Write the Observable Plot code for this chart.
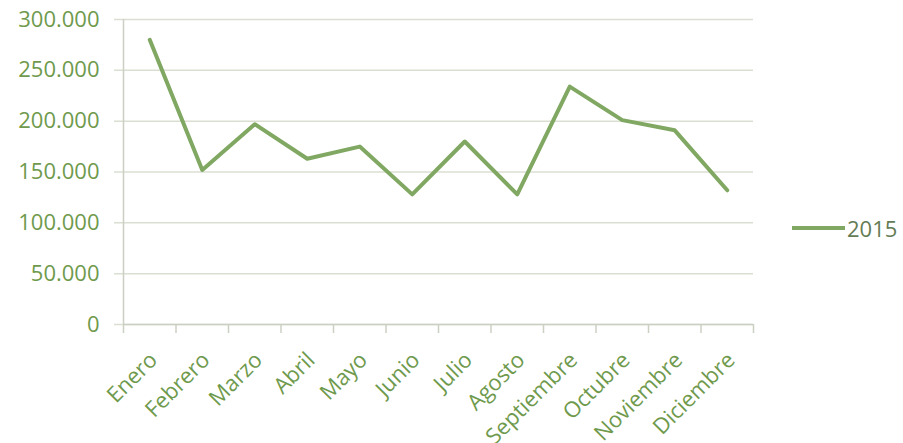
<!DOCTYPE html>
<html>
<head>
<meta charset="utf-8">
<script src="https://cdn.jsdelivr.net/npm/d3@7"></script>
<script src="https://cdn.jsdelivr.net/npm/@observablehq/plot@0.6"></script>
<style>
  html, body { margin: 0; padding: 0; background: #fff; }
  #wrap { position: relative; width: 903px; height: 443px; overflow: hidden; font-family: "Open Sans", sans-serif; }
  #chart { position: absolute; left: 0; top: 0; }
  #legend { position: absolute; left: 792px; top: 214px; height: 28px; display: flex; align-items: center; }
  #legend span { font-size: 22px; color: #647c55; margin-left: 2px; line-height: 28px; }
</style>
</head>
<body>
<div id="wrap">
  <div id="chart"></div>
  <div id="legend"><svg width="53" height="28"><line x1="0" x2="53" y1="14" y2="14" stroke="#80a862" stroke-width="4"/></svg><span id="legendText"></span></div>
</div>
<script>
const months = ["Enero","Febrero","Marzo","Abril","Mayo","Junio","Julio","Agosto","Septiembre","Octubre","Noviembre","Diciembre"];
const values2015 = [280000,152000,197000,163000,175000,128000,180000,128000,234000,201000,191000,132000];
const yTicks = [0,50000,100000,150000,200000,250000,300000];
const seriesName = "2015";

const data = months.map((m, i) => ({pos: i + 0.5, month: m, value: values2015[i]}));
const bounds = d3.range(months.length + 1);
const es = d3.formatLocale({decimal: ",", thousands: ".", grouping: [3], currency: ["", "€"]});
const fmt = es.format(",");

const textGreen = "#6f9a4d";
const gridColor = "#dadfd2";
const axisColor = "#cbd0c3";

const chart = Plot.plot({
  width: 903,
  height: 443,
  marginLeft: 123,
  marginRight: 150,
  marginTop: 19,
  marginBottom: 119,
  style: {fontFamily: "'Open Sans', sans-serif", background: "transparent", overflow: "visible"},
  x: {type: "linear", domain: [0, months.length], axis: null, label: null},
  y: {domain: [0, 300000], axis: null, label: null},
  marks: [
    Plot.ruleY(yTicks, {stroke: gridColor, strokeWidth: 1.5, insetLeft: -9}),
    Plot.ruleX([0], {stroke: axisColor, strokeWidth: 1.5}),
    Plot.ruleY([0], {stroke: axisColor, strokeWidth: 1.5}),
    Plot.axisX(bounds, {label: null, tickSize: 9, tickFormat: () => "", stroke: axisColor, strokeWidth: 1.5, strokeOpacity: 1}),
    Plot.axisX(data.map(d => d.pos), {label: null, tickSize: 0, tickPadding: 32, tickRotate: -45, dx: 4,
      tickFormat: d => months[Math.floor(d)], fill: textGreen, fontSize: 22}),
    Plot.axisY(yTicks, {label: null, tickSize: 0, tickPadding: 24, tickFormat: fmt, fill: textGreen, fontSize: 22}),
    Plot.line(data, {x: "pos", y: "value", stroke: "#80a862", strokeWidth: 4, strokeLinejoin: "round", strokeLinecap: "round"})
  ]
});
document.getElementById("chart").appendChild(chart);
document.getElementById("legendText").textContent = seriesName;
</script>
</body>
</html>
